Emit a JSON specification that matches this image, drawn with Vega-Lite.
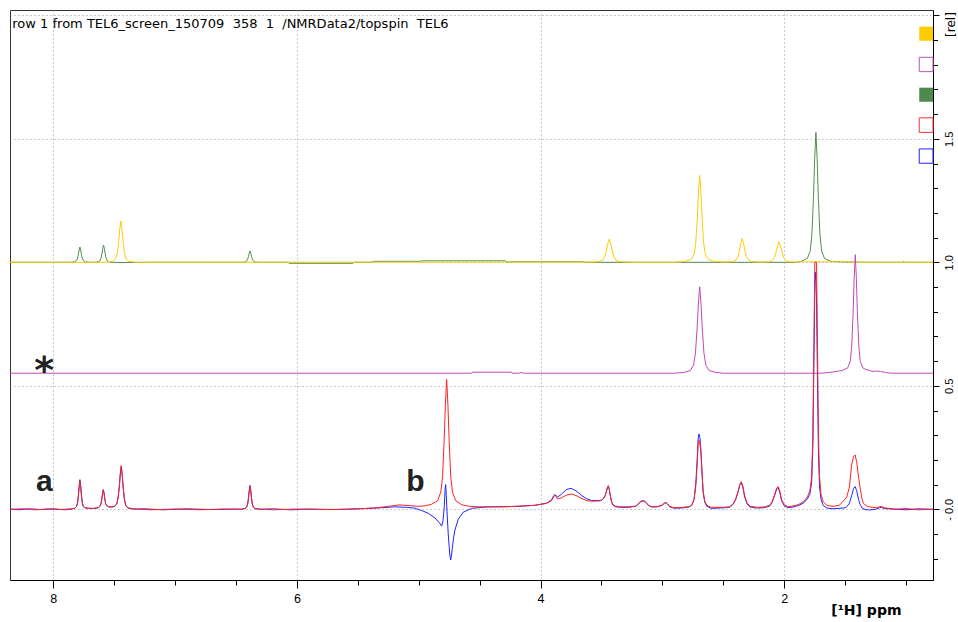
{
"$schema":"https://vega.github.io/schema/vega-lite/v6.json",
"width":923,"height":570,
"autosize":{"type":"none"},
"padding":{"left":10,"top":10,"right":25,"bottom":42},
"background":"white",
"config":{"view":{"stroke":"#333","strokeWidth":1},"axis":{"domainColor":"#000","tickColor":"#000","labelColor":"#000","titleColor":"#000","gridColor":"#999","gridDash":[1,3],"gridWidth":1,"labelOverlap":false,"labelFlush":false,"labelBound":false}},
"datasets":{
"G":[{"p":8.355,"v":1.0},{"p":7.9,"v":1.0},{"p":7.859,"v":1.0},{"p":7.8265,"v":1.002},{"p":7.811,"v":1.006},{"p":7.802,"v":1.014},{"p":7.794,"v":1.031},{"p":7.7875,"v":1.05},{"p":7.781,"v":1.062},{"p":7.7745,"v":1.05},{"p":7.768,"v":1.031},{"p":7.76,"v":1.014},{"p":7.751,"v":1.006},{"p":7.7355,"v":1.002},{"p":7.703,"v":1.0},{"p":7.665,"v":1.0},{"p":7.6325,"v":1.002},{"p":7.617,"v":1.006},{"p":7.608,"v":1.016},{"p":7.6,"v":1.035},{"p":7.5935,"v":1.056},{"p":7.587,"v":1.07},{"p":7.5805,"v":1.056},{"p":7.574,"v":1.035},{"p":7.566,"v":1.016},{"p":7.557,"v":1.006},{"p":7.5415,"v":1.002},{"p":7.509,"v":1.0},{"p":7.45,"v":0.999},{"p":7.2,"v":1.0},{"p":6.463,"v":1.0},{"p":6.4305,"v":1.001},{"p":6.415,"v":1.004},{"p":6.406,"v":1.011},{"p":6.398,"v":1.023},{"p":6.3915,"v":1.037},{"p":6.385,"v":1.046},{"p":6.3785,"v":1.037},{"p":6.372,"v":1.023},{"p":6.364,"v":1.011},{"p":6.355,"v":1.004},{"p":6.3395,"v":1.001},{"p":6.307,"v":1.0},{"p":6.07,"v":1.0},{"p":6.065,"v":0.996},{"p":5.54,"v":0.996},{"p":5.535,"v":1.0},{"p":5.4,"v":1.0},{"p":5.36,"v":1.004},{"p":5.0,"v":1.004},{"p":4.96,"v":1.006},{"p":4.29,"v":1.006},{"p":4.285,"v":1.002},{"p":3.65,"v":1.002},{"p":3.645,"v":1.0},{"p":1.9,"v":1.0},{"p":1.86,"v":1.004},{"p":1.81,"v":1.016},{"p":1.786,"v":1.047},{"p":1.772,"v":1.121},{"p":1.76,"v":1.263},{"p":1.75,"v":1.421},{"p":1.74,"v":1.526},{"p":1.73,"v":1.421},{"p":1.72,"v":1.263},{"p":1.708,"v":1.121},{"p":1.694,"v":1.047},{"p":1.67,"v":1.016},{"p":1.62,"v":1.004},{"p":1.55,"v":1.002},{"p":1.3,"v":1.0},{"p":1.03,"v":1.0},{"p":1.02,"v":1.004},{"p":1.01,"v":1.0},{"p":0.779,"v":1.0}],
"Y":[{"p":8.355,"v":1.0},{"p":7.6,"v":1.0},{"p":7.553,"v":1.001},{"p":7.508,"v":1.005},{"p":7.486,"v":1.015},{"p":7.474,"v":1.038},{"p":7.463,"v":1.084},{"p":7.454,"v":1.134},{"p":7.445,"v":1.167},{"p":7.436,"v":1.134},{"p":7.427,"v":1.084},{"p":7.416,"v":1.038},{"p":7.404,"v":1.015},{"p":7.382,"v":1.005},{"p":7.337,"v":1.001},{"p":7.3,"v":1.0},{"p":3.58,"v":1.001},{"p":3.52,"v":1.003},{"p":3.491,"v":1.008},{"p":3.474,"v":1.022},{"p":3.46,"v":1.047},{"p":3.448,"v":1.075},{"p":3.436,"v":1.094},{"p":3.424,"v":1.075},{"p":3.412,"v":1.047},{"p":3.398,"v":1.022},{"p":3.381,"v":1.008},{"p":3.352,"v":1.003},{"p":3.292,"v":1.001},{"p":3.2,"v":1.0},{"p":2.9,"v":1.0},{"p":2.85,"v":1.002},{"p":2.814,"v":1.004},{"p":2.764,"v":1.011},{"p":2.74,"v":1.032},{"p":2.726,"v":1.081},{"p":2.714,"v":1.176},{"p":2.704,"v":1.282},{"p":2.694,"v":1.352},{"p":2.684,"v":1.282},{"p":2.674,"v":1.176},{"p":2.662,"v":1.081},{"p":2.648,"v":1.032},{"p":2.624,"v":1.011},{"p":2.574,"v":1.004},{"p":2.52,"v":1.002},{"p":2.477,"v":1.001},{"p":2.422,"v":1.003},{"p":2.396,"v":1.009},{"p":2.38,"v":1.022},{"p":2.367,"v":1.048},{"p":2.356,"v":1.077},{"p":2.345,"v":1.096},{"p":2.334,"v":1.077},{"p":2.323,"v":1.048},{"p":2.31,"v":1.022},{"p":2.294,"v":1.009},{"p":2.268,"v":1.003},{"p":2.213,"v":1.001},{"p":2.187,"v":1.001},{"p":2.127,"v":1.002},{"p":2.098,"v":1.007},{"p":2.081,"v":1.019},{"p":2.067,"v":1.042},{"p":2.055,"v":1.066},{"p":2.043,"v":1.083},{"p":2.031,"v":1.066},{"p":2.019,"v":1.042},{"p":2.005,"v":1.019},{"p":1.988,"v":1.007},{"p":1.959,"v":1.002},{"p":1.899,"v":1.001},{"p":1.85,"v":1.002},{"p":1.56,"v":1.002},{"p":1.52,"v":1.004},{"p":1.48,"v":1.002},{"p":1.4,"v":1.0},{"p":0.779,"v":1.0}],
"M":[{"p":8.355,"v":0.551},{"p":4.566,"v":0.551},{"p":4.56,"v":0.555},{"p":4.24,"v":0.555},{"p":4.235,"v":0.551},{"p":4.18,"v":0.551},{"p":4.16,"v":0.554},{"p":4.14,"v":0.551},{"p":2.9,"v":0.551},{"p":2.826,"v":0.554},{"p":2.771,"v":0.562},{"p":2.745,"v":0.583},{"p":2.729,"v":0.632},{"p":2.716,"v":0.726},{"p":2.705,"v":0.831},{"p":2.694,"v":0.901},{"p":2.683,"v":0.831},{"p":2.672,"v":0.726},{"p":2.659,"v":0.632},{"p":2.643,"v":0.583},{"p":2.617,"v":0.562},{"p":2.562,"v":0.554},{"p":2.5,"v":0.551},{"p":1.7,"v":0.551},{"p":1.65,"v":0.553},{"p":1.6,"v":0.556},{"p":1.525,"v":0.562},{"p":1.48,"v":0.572},{"p":1.458,"v":0.598},{"p":1.446,"v":0.661},{"p":1.435,"v":0.791},{"p":1.426,"v":0.935},{"p":1.417,"v":1.031},{"p":1.408,"v":0.935},{"p":1.399,"v":0.791},{"p":1.388,"v":0.661},{"p":1.376,"v":0.598},{"p":1.354,"v":0.572},{"p":1.33,"v":0.566},{"p":1.3,"v":0.562},{"p":1.27,"v":0.558},{"p":1.24,"v":0.56},{"p":1.21,"v":0.558},{"p":1.17,"v":0.554},{"p":1.12,"v":0.551},{"p":0.779,"v":0.551}],
"B":[{"p":8.355,"v":0.001},{"p":8.28,"v":-0.002},{"p":8.2,"v":0.002},{"p":8.1,"v":-0.001},{"p":8.0,"v":0.002},{"p":7.9,"v":-0.002},{"p":7.853,"v":0.001},{"p":7.823,"v":0.004},{"p":7.809,"v":0.011},{"p":7.8,"v":0.028},{"p":7.793,"v":0.06},{"p":7.787,"v":0.096},{"p":7.781,"v":0.12},{"p":7.775,"v":0.096},{"p":7.769,"v":0.06},{"p":7.762,"v":0.028},{"p":7.753,"v":0.011},{"p":7.739,"v":0.006},{"p":7.709,"v":0.004},{"p":7.67,"v":0.003},{"p":7.661,"v":0.004},{"p":7.631,"v":0.006},{"p":7.617,"v":0.012},{"p":7.608,"v":0.023},{"p":7.601,"v":0.043},{"p":7.595,"v":0.066},{"p":7.589,"v":0.08},{"p":7.583,"v":0.066},{"p":7.577,"v":0.043},{"p":7.57,"v":0.024},{"p":7.561,"v":0.014},{"p":7.547,"v":0.01},{"p":7.52,"v":0.009},{"p":7.498,"v":0.011},{"p":7.479,"v":0.021},{"p":7.468,"v":0.046},{"p":7.458,"v":0.09},{"p":7.45,"v":0.14},{"p":7.442,"v":0.172},{"p":7.434,"v":0.138},{"p":7.426,"v":0.087},{"p":7.416,"v":0.04},{"p":7.405,"v":0.015},{"p":7.386,"v":0.005},{"p":7.346,"v":0.001},{"p":7.25,"v":0.002},{"p":7.1,"v":-0.002},{"p":6.9,"v":0.002},{"p":6.7,"v":-0.001},{"p":6.5,"v":0.001},{"p":6.457,"v":0.0},{"p":6.427,"v":0.003},{"p":6.413,"v":0.009},{"p":6.404,"v":0.022},{"p":6.397,"v":0.049},{"p":6.391,"v":0.078},{"p":6.385,"v":0.097},{"p":6.379,"v":0.078},{"p":6.373,"v":0.049},{"p":6.366,"v":0.022},{"p":6.357,"v":0.009},{"p":6.343,"v":0.003},{"p":6.313,"v":0.0},{"p":6.2,"v":0.002},{"p":6.05,"v":-0.002},{"p":5.9,"v":0.001},{"p":5.7,"v":-0.001},{"p":5.5,"v":0.002},{"p":5.35,"v":0.005},{"p":5.2,"v":0.01},{"p":5.1,"v":0.008},{"p":5.035,"v":0.005},{"p":4.98,"v":-0.004},{"p":4.922,"v":-0.016},{"p":4.867,"v":-0.035},{"p":4.83,"v":-0.055},{"p":4.812,"v":-0.068},{"p":4.802,"v":-0.05},{"p":4.792,"v":0.0},{"p":4.783,"v":0.085},{"p":4.779,"v":0.1},{"p":4.774,"v":0.06},{"p":4.768,"v":-0.01},{"p":4.758,"v":-0.1},{"p":4.745,"v":-0.185},{"p":4.738,"v":-0.205},{"p":4.732,"v":-0.19},{"p":4.725,"v":-0.16},{"p":4.714,"v":-0.115},{"p":4.703,"v":-0.084},{"p":4.676,"v":-0.04},{"p":4.635,"v":-0.012},{"p":4.566,"v":0.004},{"p":4.43,"v":0.01},{"p":4.3,"v":0.01},{"p":4.2,"v":0.012},{"p":4.05,"v":0.016},{"p":4.0,"v":0.02},{"p":3.95,"v":0.025},{"p":3.91,"v":0.038},{"p":3.893,"v":0.055},{"p":3.882,"v":0.06},{"p":3.872,"v":0.055},{"p":3.86,"v":0.05},{"p":3.83,"v":0.06},{"p":3.79,"v":0.08},{"p":3.75,"v":0.085},{"p":3.71,"v":0.075},{"p":3.66,"v":0.055},{"p":3.62,"v":0.042},{"p":3.58,"v":0.036},{"p":3.52,"v":0.035},{"p":3.5,"v":0.037},{"p":3.481,"v":0.046},{"p":3.47,"v":0.056},{"p":3.46,"v":0.072},{"p":3.452,"v":0.087},{"p":3.444,"v":0.096},{"p":3.436,"v":0.082},{"p":3.428,"v":0.056},{"p":3.418,"v":0.032},{"p":3.407,"v":0.018},{"p":3.388,"v":0.011},{"p":3.35,"v":0.008},{"p":3.28,"v":0.008},{"p":3.22,"v":0.012},{"p":3.2,"v":0.022},{"p":3.18,"v":0.032},{"p":3.165,"v":0.035},{"p":3.15,"v":0.034},{"p":3.135,"v":0.028},{"p":3.115,"v":0.016},{"p":3.09,"v":0.01},{"p":3.04,"v":0.01},{"p":3.0,"v":0.017},{"p":2.985,"v":0.024},{"p":2.971,"v":0.027},{"p":2.958,"v":0.021},{"p":2.94,"v":0.01},{"p":2.91,"v":0.005},{"p":2.85,"v":0.005},{"p":2.8,"v":0.008},{"p":2.78,"v":0.01},{"p":2.76,"v":0.016},{"p":2.74,"v":0.04},{"p":2.725,"v":0.11},{"p":2.715,"v":0.2},{"p":2.706,"v":0.29},{"p":2.7,"v":0.305},{"p":2.692,"v":0.29},{"p":2.684,"v":0.24},{"p":2.676,"v":0.16},{"p":2.666,"v":0.07},{"p":2.652,"v":0.028},{"p":2.635,"v":0.012},{"p":2.6,"v":0.004},{"p":2.5,"v":0.006},{"p":2.45,"v":0.008},{"p":2.42,"v":0.02},{"p":2.4,"v":0.038},{"p":2.38,"v":0.068},{"p":2.365,"v":0.098},{"p":2.353,"v":0.108},{"p":2.34,"v":0.09},{"p":2.325,"v":0.05},{"p":2.305,"v":0.022},{"p":2.28,"v":0.009},{"p":2.22,"v":0.005},{"p":2.16,"v":0.007},{"p":2.12,"v":0.013},{"p":2.1,"v":0.027},{"p":2.08,"v":0.055},{"p":2.062,"v":0.083},{"p":2.05,"v":0.088},{"p":2.037,"v":0.07},{"p":2.022,"v":0.035},{"p":2.0,"v":0.014},{"p":1.97,"v":0.007},{"p":1.92,"v":0.01},{"p":1.88,"v":0.016},{"p":1.84,"v":0.026},{"p":1.81,"v":0.042},{"p":1.79,"v":0.06},{"p":1.775,"v":0.11},{"p":1.765,"v":0.26},{"p":1.756,"v":0.62},{"p":1.748,"v":0.92},{"p":1.742,"v":0.96},{"p":1.735,"v":0.85},{"p":1.728,"v":0.55},{"p":1.719,"v":0.22},{"p":1.71,"v":0.09},{"p":1.698,"v":0.04},{"p":1.68,"v":0.015},{"p":1.65,"v":0.005},{"p":1.6,"v":0.002},{"p":1.55,"v":0.004},{"p":1.5,"v":0.006},{"p":1.487,"v":0.01},{"p":1.465,"v":0.025},{"p":1.447,"v":0.055},{"p":1.43,"v":0.085},{"p":1.418,"v":0.092},{"p":1.405,"v":0.075},{"p":1.39,"v":0.04},{"p":1.378,"v":0.02},{"p":1.36,"v":0.005},{"p":1.33,"v":-0.002},{"p":1.3,"v":-0.002},{"p":1.25,"v":0.0},{"p":1.22,"v":0.006},{"p":1.2,"v":0.008},{"p":1.18,"v":0.003},{"p":1.1,"v":0.001},{"p":1.0,"v":-0.002},{"p":0.9,"v":0.002},{"p":0.779,"v":0.0}],
"R":[{"p":8.355,"v":0.0},{"p":8.25,"v":0.002},{"p":8.15,"v":-0.002},{"p":8.05,"v":0.001},{"p":7.95,"v":-0.001},{"p":7.88,"v":0.001},{"p":7.853,"v":0.002},{"p":7.823,"v":0.004},{"p":7.809,"v":0.011},{"p":7.8,"v":0.027},{"p":7.793,"v":0.058},{"p":7.787,"v":0.092},{"p":7.781,"v":0.115},{"p":7.775,"v":0.092},{"p":7.769,"v":0.058},{"p":7.762,"v":0.027},{"p":7.753,"v":0.011},{"p":7.739,"v":0.006},{"p":7.709,"v":0.004},{"p":7.67,"v":0.004},{"p":7.661,"v":0.005},{"p":7.631,"v":0.007},{"p":7.617,"v":0.012},{"p":7.608,"v":0.022},{"p":7.601,"v":0.042},{"p":7.595,"v":0.065},{"p":7.589,"v":0.078},{"p":7.583,"v":0.065},{"p":7.577,"v":0.042},{"p":7.57,"v":0.024},{"p":7.561,"v":0.014},{"p":7.547,"v":0.01},{"p":7.52,"v":0.01},{"p":7.498,"v":0.012},{"p":7.479,"v":0.022},{"p":7.468,"v":0.047},{"p":7.458,"v":0.092},{"p":7.45,"v":0.144},{"p":7.442,"v":0.177},{"p":7.434,"v":0.142},{"p":7.426,"v":0.089},{"p":7.416,"v":0.041},{"p":7.405,"v":0.016},{"p":7.386,"v":0.006},{"p":7.346,"v":0.002},{"p":7.2,"v":-0.002},{"p":7.0,"v":0.001},{"p":6.8,"v":-0.002},{"p":6.6,"v":0.001},{"p":6.48,"v":0.0},{"p":6.457,"v":0.001},{"p":6.427,"v":0.003},{"p":6.413,"v":0.008},{"p":6.404,"v":0.021},{"p":6.397,"v":0.046},{"p":6.391,"v":0.074},{"p":6.385,"v":0.092},{"p":6.379,"v":0.074},{"p":6.373,"v":0.046},{"p":6.366,"v":0.021},{"p":6.357,"v":0.008},{"p":6.343,"v":0.003},{"p":6.313,"v":0.001},{"p":6.2,"v":-0.002},{"p":6.0,"v":0.001},{"p":5.8,"v":-0.001},{"p":5.6,"v":0.0},{"p":5.45,"v":0.003},{"p":5.35,"v":0.006},{"p":5.25,"v":0.012},{"p":5.16,"v":0.018},{"p":5.08,"v":0.015},{"p":5.0,"v":0.012},{"p":4.95,"v":0.014},{"p":4.897,"v":0.02},{"p":4.845,"v":0.035},{"p":4.819,"v":0.07},{"p":4.805,"v":0.13},{"p":4.792,"v":0.269},{"p":4.7815,"v":0.423},{"p":4.771,"v":0.526},{"p":4.7605,"v":0.423},{"p":4.75,"v":0.269},{"p":4.737,"v":0.13},{"p":4.723,"v":0.07},{"p":4.697,"v":0.035},{"p":4.645,"v":0.018},{"p":4.58,"v":0.012},{"p":4.5,"v":0.01},{"p":4.4,"v":0.01},{"p":4.2,"v":0.012},{"p":4.05,"v":0.016},{"p":4.0,"v":0.02},{"p":3.95,"v":0.024},{"p":3.91,"v":0.035},{"p":3.893,"v":0.05},{"p":3.882,"v":0.058},{"p":3.872,"v":0.05},{"p":3.86,"v":0.042},{"p":3.83,"v":0.046},{"p":3.79,"v":0.057},{"p":3.745,"v":0.062},{"p":3.7,"v":0.054},{"p":3.66,"v":0.043},{"p":3.62,"v":0.035},{"p":3.58,"v":0.033},{"p":3.52,"v":0.034},{"p":3.5,"v":0.036},{"p":3.481,"v":0.045},{"p":3.47,"v":0.055},{"p":3.46,"v":0.07},{"p":3.452,"v":0.085},{"p":3.444,"v":0.094},{"p":3.436,"v":0.08},{"p":3.428,"v":0.056},{"p":3.418,"v":0.033},{"p":3.407,"v":0.02},{"p":3.388,"v":0.013},{"p":3.35,"v":0.01},{"p":3.28,"v":0.01},{"p":3.22,"v":0.013},{"p":3.2,"v":0.02},{"p":3.18,"v":0.029},{"p":3.165,"v":0.032},{"p":3.15,"v":0.032},{"p":3.135,"v":0.027},{"p":3.115,"v":0.016},{"p":3.09,"v":0.01},{"p":3.04,"v":0.011},{"p":3.0,"v":0.018},{"p":2.985,"v":0.025},{"p":2.971,"v":0.027},{"p":2.958,"v":0.022},{"p":2.94,"v":0.012},{"p":2.91,"v":0.007},{"p":2.85,"v":0.007},{"p":2.8,"v":0.01},{"p":2.78,"v":0.01},{"p":2.76,"v":0.016},{"p":2.74,"v":0.04},{"p":2.725,"v":0.1},{"p":2.715,"v":0.18},{"p":2.706,"v":0.27},{"p":2.7,"v":0.28},{"p":2.692,"v":0.265},{"p":2.684,"v":0.23},{"p":2.676,"v":0.16},{"p":2.666,"v":0.075},{"p":2.652,"v":0.032},{"p":2.635,"v":0.016},{"p":2.6,"v":0.008},{"p":2.5,"v":0.008},{"p":2.45,"v":0.01},{"p":2.42,"v":0.022},{"p":2.4,"v":0.04},{"p":2.38,"v":0.07},{"p":2.365,"v":0.1},{"p":2.353,"v":0.112},{"p":2.34,"v":0.095},{"p":2.325,"v":0.055},{"p":2.305,"v":0.026},{"p":2.28,"v":0.012},{"p":2.22,"v":0.008},{"p":2.16,"v":0.01},{"p":2.12,"v":0.016},{"p":2.1,"v":0.03},{"p":2.08,"v":0.058},{"p":2.062,"v":0.086},{"p":2.05,"v":0.092},{"p":2.037,"v":0.075},{"p":2.022,"v":0.04},{"p":2.0,"v":0.018},{"p":1.97,"v":0.01},{"p":1.92,"v":0.014},{"p":1.88,"v":0.02},{"p":1.84,"v":0.032},{"p":1.81,"v":0.05},{"p":1.79,"v":0.075},{"p":1.775,"v":0.13},{"p":1.765,"v":0.3},{"p":1.756,"v":0.7},{"p":1.749,"v":1.0},{"p":1.735,"v":1.0},{"p":1.728,"v":0.7},{"p":1.719,"v":0.3},{"p":1.71,"v":0.13},{"p":1.698,"v":0.06},{"p":1.68,"v":0.03},{"p":1.65,"v":0.016},{"p":1.6,"v":0.012},{"p":1.55,"v":0.016},{"p":1.52,"v":0.03},{"p":1.487,"v":0.05},{"p":1.465,"v":0.09},{"p":1.447,"v":0.18},{"p":1.43,"v":0.215},{"p":1.418,"v":0.22},{"p":1.405,"v":0.19},{"p":1.39,"v":0.13},{"p":1.378,"v":0.09},{"p":1.365,"v":0.05},{"p":1.351,"v":0.024},{"p":1.32,"v":0.012},{"p":1.28,"v":0.008},{"p":1.24,"v":0.006},{"p":1.22,"v":0.01},{"p":1.2,"v":0.012},{"p":1.18,"v":0.006},{"p":1.1,"v":0.0},{"p":1.0,"v":0.003},{"p":0.9,"v":-0.002},{"p":0.779,"v":0.0}],
"keys":[{"k":"y","p":0.892,"p2":0.779,"v":1.954,"v2":1.897},{"k":"m","p":0.892,"p2":0.779,"v":1.83,"v2":1.772},{"k":"g","p":0.892,"p2":0.779,"v":1.707,"v2":1.65},{"k":"r","p":0.892,"p2":0.779,"v":1.585,"v2":1.526},{"k":"b","p":0.892,"p2":0.779,"v":1.459,"v2":1.401}],
"hdr":[{"t":"row 1 from TEL6_screen_150709\u00a0 358\u00a0 1\u00a0 /NMRData2/topspin\u00a0 TEL6","p":8.336,"v":1.947}],
"ab":[{"t":"a","p":8.074,"v":0.074},{"t":"b","p":5.027,"v":0.074}],
"star":[{"t":"*","p":8.075,"v":0.512}]
},
"encoding":{
"x":{"field":"p","type":"quantitative","scale":{"domain":[0.779,8.355],"reverse":true,"nice":false,"zero":false},
"axis":{"values":[1,1.5,2,2.5,3,3.5,4,4.5,5,5.5,6,6.5,7,7.5,8],"labelExpr":"datum.value % 2 === 0 ? format(datum.value, 'd') : ''","tickSize":{"condition":{"test":"datum.value % 2 === 0","value":8},"value":5},"grid":true,"gridOpacity":{"condition":{"test":"datum.value % 2 === 0","value":1},"value":0},"labelFont":"Liberation Sans","labelFontSize":12.5,"labelPadding":4,"labelBaseline":"top","title":"[¹H] ppm","titleFont":"DejaVu Sans","titleFontSize":14,"titleFontWeight":"bold","titleAlign":"right","titleX":891,"titleY":34,"titleBaseline":"alphabetic"}},
"y":{"field":"v","type":"quantitative","scale":{"domain":[-0.2862,2.0215],"nice":false,"zero":false},
"axis":{"orient":"right","values":[-0.2,-0.1,0,0.1,0.2,0.3,0.4,0.5,0.6,0.7,0.8,0.9,1,1.1,1.2,1.3,1.4,1.5,1.6,1.7,1.8,1.9,2],"labelExpr":"datum.value === 0 ? '- 0.0' : ((abs(datum.value*2 - round(datum.value*2)) < 0.001 && datum.value > 0 && datum.value < 1.9) ? format(datum.value, '.1f') : '')","tickSize":{"condition":{"test":"abs(datum.value*2 - round(datum.value*2)) < 0.001","value":6},"value":4.5},"grid":true,"gridOpacity":{"condition":{"test":"abs(datum.value*2 - round(datum.value*2)) < 0.001","value":1},"value":0},"labelAngle":270,"labelAlign":"center","labelBaseline":"middle","labelPadding":10,"labelFont":"Liberation Sans","labelFontSize":11,"title":"[rel]","titleAngle":270,"titleAlign":"center","titleBaseline":"middle","titleX":17,"titleY":14,"titleFont":"DejaVu Sans","titleFontSize":12,"titleFontWeight":"normal"}}
},
"layer":[
{"data":{"name":"G"},"mark":{"type":"line","color":"#4F8F4F","strokeWidth":1,"clip":true}},
{"data":{"name":"Y"},"mark":{"type":"line","color":"#FFCC00","strokeWidth":1,"clip":true}},
{"data":{"name":"M"},"mark":{"type":"line","color":"#C247B8","strokeWidth":1,"clip":true}},
{"data":{"name":"B"},"mark":{"type":"line","color":"#2424FF","strokeWidth":1,"clip":true}},
{"data":{"name":"R"},"mark":{"type":"line","color":"#FF2222","strokeWidth":1,"clip":true}},
{"data":{"name":"keys"},"transform":[{"filter":"datum.k === 'y' || datum.k === 'g'"}],"mark":{"type":"rect"},"encoding":{"x2":{"field":"p2"},"y2":{"field":"v2"},"fill":{"field":"k","type":"nominal","scale":{"domain":["y","g"],"range":["#FFCC00","#4E8A4E"]},"legend":null}}},
{"data":{"name":"keys"},"transform":[{"filter":"datum.k === 'm' || datum.k === 'r' || datum.k === 'b'"}],"mark":{"type":"rect","fill":"white","strokeWidth":1},"encoding":{"x2":{"field":"p2"},"y2":{"field":"v2"},"stroke":{"field":"k","type":"nominal","scale":{"domain":["m","r","b"],"range":["#C050C0","#FF3333","#2020FF"]},"legend":null}}},
{"data":{"name":"hdr"},"mark":{"type":"text","align":"left","baseline":"alphabetic","font":"DejaVu Sans","fontSize":13,"color":"#000"},"encoding":{"text":{"field":"t"}}},
{"data":{"name":"ab"},"mark":{"type":"text","align":"center","baseline":"alphabetic","font":"Liberation Sans","fontWeight":"bold","fontSize":30,"color":"#222"},"encoding":{"text":{"field":"t"}}},
{"data":{"name":"star"},"mark":{"type":"text","align":"center","baseline":"alphabetic","font":"DejaVu Sans","fontWeight":"bold","fontSize":38,"color":"#222"},"encoding":{"text":{"field":"t"}}}
]
}
